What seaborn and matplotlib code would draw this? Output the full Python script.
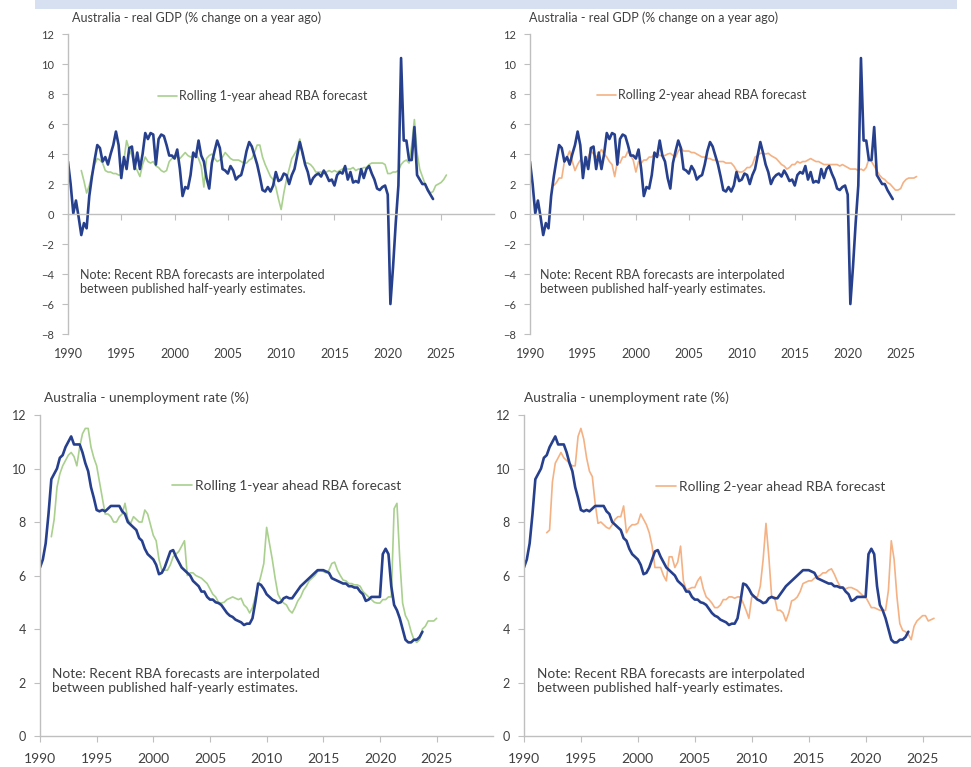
"""Australia GDP and unemployment vs rolling RBA forecasts."""
import matplotlib
import matplotlib.pyplot as plt
import numpy as np
import seaborn as sns
from matplotlib.patches import Rectangle

matplotlib.use("Agg")

# quarterly data, first value at the given start year
gdp_start = 1990.0
gdp_actual = [
    3.5, 2.0, 0.05, 0.9, -0.2, -1.4, -0.6, -0.95, 1.2, 2.5, 3.6, 4.6,
    4.4, 3.5, 3.8, 3.3, 4.0, 4.6, 5.5, 4.6, 2.4, 3.8, 3.0, 4.4,
    4.5, 3.0, 4.1, 3.0, 4.0, 5.4, 5.0, 5.4, 5.3, 3.3, 5.0, 5.3,
    5.2, 4.6, 3.9, 3.9, 3.7, 4.3, 3.0, 1.2, 1.8, 1.7, 2.6, 4.1,
    3.8, 4.9, 3.9, 3.5, 2.4, 1.7, 3.4, 4.2, 4.9, 4.4, 3.0, 2.9,
    2.7, 3.2, 2.9, 2.3, 2.5, 2.6, 3.3, 4.2, 4.8, 4.5, 3.9, 3.3,
    2.5, 1.6, 1.5, 1.8, 1.5, 1.9, 2.8, 2.2, 2.3, 2.7, 2.6, 2.0,
    2.6, 3.0, 3.9, 4.8, 4.1, 3.3, 2.8, 2.0, 2.4, 2.6, 2.7, 2.5,
    2.9, 2.6, 2.2, 2.3, 1.9, 2.6, 2.8, 2.7, 3.2, 2.3, 2.8, 2.1,
    2.2, 2.1, 3.0, 2.4, 3.0, 3.2, 2.7, 2.3, 1.7, 1.6, 1.8, 1.9,
    1.3, -6.0, -3.5, -0.6, 1.9, 10.4, 4.9, 4.9, 3.6, 3.6, 5.8, 2.6,
    2.3, 2.0, 2.0, 1.6, 1.3, 1.0,
]
gdp_fc1_start = 1991.25
gdp_fc1 = [
    2.9, 2.2, 1.4, 1.9, 2.7, 3.3, 3.7, 3.6, 3.4, 2.9, 2.8,
    2.8, 2.7, 2.7, 2.6, 2.6, 3.6, 4.9, 4.3, 3.9, 3.2, 2.9, 2.5,
    3.3, 3.8, 3.5, 3.4, 3.5, 3.2, 3.1, 2.9, 2.8, 2.9, 3.5, 3.7,
    3.9, 3.8, 3.7, 3.9, 4.1, 3.9, 3.8, 3.9, 4.0, 3.7, 3.2, 1.8,
    3.7, 3.9, 4.0, 3.7, 3.5, 3.6, 3.8, 4.1, 3.9, 3.7, 3.6, 3.6,
    3.6, 3.5, 3.4, 3.4, 3.6, 3.7, 4.1, 4.6, 4.6, 3.8, 3.3, 2.9,
    2.5, 2.3, 1.8, 1.0, 0.3, 1.4, 2.3, 3.0, 3.7, 4.0, 4.3, 5.0,
    3.9, 3.4, 3.4, 3.3, 3.1, 2.8, 2.8, 2.8, 2.7, 2.8, 2.9, 2.8,
    2.9, 2.8, 2.9, 3.0, 3.1, 3.0, 3.0, 3.1, 2.9, 3.0, 3.0, 3.1,
    3.1, 3.3, 3.4, 3.4, 3.4, 3.4, 3.4, 3.3, 2.7, 2.7, 2.8, 2.8,
    2.9, 3.3, 3.5, 3.6, 3.4, 4.6, 6.3, 4.1, 3.0, 2.5, 2.0, 1.7,
    1.4, 1.5, 1.9, 2.0, 2.1, 2.3, 2.6,
]
gdp_fc2_start = 1992.25
gdp_fc2 = [
    1.9, 2.1, 2.4, 2.4, 3.5, 3.8, 4.2, 3.5, 2.9, 3.3, 3.6,
    3.4, 3.2, 3.8, 4.2, 4.0, 3.8, 4.0, 4.3, 4.0, 3.8, 3.5, 3.3,
    2.5, 3.5, 3.4, 3.8, 3.8, 4.2, 3.9, 3.6, 2.8, 3.5, 3.4, 3.6,
    3.6, 3.8, 3.8, 4.0, 4.05, 3.9, 3.9, 3.9, 4.0, 4.05, 3.9, 3.8,
    4.2, 4.4, 4.2, 4.2, 4.2, 4.1, 4.1, 4.0, 3.9, 3.8, 3.8, 3.7,
    3.7, 3.6, 3.6, 3.5, 3.5, 3.5, 3.4, 3.4, 3.4, 3.2, 2.9, 2.8,
    2.8, 2.9, 3.1, 3.1, 3.3, 3.8, 3.9, 4.05, 4.05, 4.0, 4.05, 3.9,
    3.8, 3.7, 3.5, 3.3, 3.2, 3.0, 3.1, 3.3, 3.3, 3.5, 3.4, 3.5,
    3.5, 3.6, 3.7, 3.6, 3.5, 3.5, 3.4, 3.3, 3.3, 3.3, 3.3, 3.3,
    3.3, 3.2, 3.3, 3.2, 3.1, 3.0, 3.0, 3.0, 2.9, 3.0, 2.9, 3.1,
    3.7, 3.5, 3.2, 2.9, 2.6, 2.4, 2.3, 2.1, 2.0, 1.8, 1.6, 1.6,
    1.7, 2.1, 2.3, 2.4, 2.4, 2.4, 2.5,
]

ur_start = 1990.0
ur_actual = [
    6.3, 6.6, 7.2, 8.3, 9.6, 9.8, 10.0, 10.4, 10.5, 10.8, 11.0, 11.2,
    10.9, 10.9, 10.9, 10.6, 10.2, 9.9, 9.3, 8.9, 8.45, 8.4, 8.45, 8.4,
    8.5, 8.6, 8.6, 8.6, 8.6, 8.4, 8.3, 8.0, 7.9, 7.8, 7.7, 7.4,
    7.3, 7.0, 6.8, 6.7, 6.6, 6.4, 6.05, 6.1, 6.3, 6.6, 6.9, 6.95,
    6.7, 6.5, 6.3, 6.2, 6.1, 6.0, 5.8, 5.7, 5.6, 5.4, 5.4, 5.2,
    5.1, 5.1, 5.0, 4.97, 4.9, 4.75, 4.6, 4.5, 4.45, 4.35, 4.3, 4.25,
    4.15, 4.2, 4.2, 4.4, 5.0, 5.7, 5.65, 5.5, 5.3, 5.2, 5.1, 5.05,
    4.97, 5.0, 5.15, 5.2, 5.15, 5.15, 5.3, 5.45, 5.6, 5.7, 5.8, 5.9,
    6.0, 6.1, 6.2, 6.2, 6.2, 6.15, 6.1, 5.9, 5.85, 5.8, 5.75, 5.7,
    5.7, 5.6, 5.6, 5.55, 5.55, 5.4, 5.3, 5.05, 5.1, 5.2, 5.2, 5.2,
    5.2, 6.8, 7.0, 6.8, 5.6, 4.9, 4.7, 4.4, 4.0, 3.6, 3.5, 3.5,
    3.6, 3.6, 3.7, 3.9,
]
ur_fc1_start = 1991.0
ur_fc1 = [
    7.45, 8.1, 9.3, 9.8, 10.1, 10.3, 10.5, 10.6, 10.45, 10.1, 10.8, 11.3,
    11.5, 11.5, 10.8, 10.4, 10.1, 9.5, 8.9, 8.3, 8.3, 8.2, 8.0, 8.0,
    8.2, 8.3, 8.7, 8.1, 7.95, 8.2, 8.1, 8.0, 8.0, 8.45, 8.3, 7.9,
    7.5, 7.3, 6.6, 6.2, 6.2, 6.2, 6.4, 6.7, 6.8, 6.9, 7.1, 7.3,
    6.0, 6.1, 6.1, 6.0, 5.95, 5.9, 5.8, 5.7, 5.5, 5.3, 5.2, 5.0,
    4.97, 5.0, 5.1, 5.15, 5.2, 5.15, 5.1, 5.15, 4.9, 4.8, 4.6, 4.8,
    5.2, 5.6, 6.0, 6.45, 7.8, 7.2, 6.6, 5.9, 5.3, 5.1, 4.97, 4.9,
    4.7, 4.6, 4.8, 5.05, 5.2, 5.45, 5.6, 5.8, 5.9, 6.0, 6.15, 6.2,
    6.15, 6.1, 6.2, 6.45, 6.5, 6.2, 6.0, 5.83, 5.8, 5.7, 5.7, 5.65,
    5.65, 5.6, 5.4, 5.3, 5.2, 5.1, 5.0, 4.97, 4.97, 5.1, 5.1, 5.2,
    5.2, 8.5, 8.7, 6.6, 4.97, 4.5, 4.3, 3.9, 3.6, 3.5, 3.6, 4.0,
    4.1, 4.3, 4.3, 4.3, 4.4,
]
ur_fc2_start = 1992.0
ur_fc2 = [
    7.6, 7.7, 9.5, 10.2, 10.4, 10.6, 10.4, 10.3, 10.2, 10.1, 10.1, 11.2,
    11.5, 11.1, 10.4, 9.9, 9.7, 8.7, 7.95, 8.0, 7.9, 7.8, 7.75, 7.9,
    8.1, 8.2, 8.2, 8.6, 7.6, 7.8, 7.9, 7.9, 7.95, 8.3, 8.1, 7.9,
    7.6, 7.1, 6.3, 6.3, 6.3, 6.0, 5.8, 6.7, 6.7, 6.3, 6.5, 7.1,
    5.8, 5.45, 5.5, 5.55, 5.55, 5.8, 5.95, 5.5, 5.2, 5.1, 4.97, 4.8,
    4.8, 4.9, 5.1, 5.1, 5.2, 5.2, 5.15, 5.2, 5.2, 4.97, 4.7, 4.4,
    5.2, 5.2, 5.2, 5.6, 6.6, 7.95, 6.7, 5.2, 5.2, 4.7, 4.7, 4.6,
    4.3, 4.6, 5.05, 5.1, 5.2, 5.4, 5.7, 5.75, 5.8, 5.8, 5.9, 5.95,
    6.0, 6.1, 6.1, 6.2, 6.25, 6.05, 5.8, 5.6, 5.55, 5.5, 5.55, 5.55,
    5.5, 5.45, 5.35, 5.25, 5.2, 5.0, 4.8, 4.8, 4.75, 4.7, 4.7, 4.7,
    5.45, 7.3, 6.6, 5.2, 4.2, 3.95, 3.9, 3.8, 3.6, 4.1, 4.3, 4.4,
    4.5, 4.5, 4.3, 4.35, 4.4,
]

year_ticks = [1990, 1995, 2000, 2005, 2010, 2015, 2020, 2025]
gdp_yticks = [-8, -6, -4, -2, 0, 2, 4, 6, 8, 10, 12]
ur_yticks = [0, 2, 4, 6, 8, 10, 12]

ACTUAL = "#27408e"
GREEN = "#a9d08e"
ORANGE = "#f4b183"
AXIS = "#bfbfbf"
TEXT = "#404040"
NOTE = "Note: Recent RBA forecasts are interpolated\nbetween published half-yearly estimates."

sns.set_style("white")
plt.rcParams["font.family"] = ["Lato", "DejaVu Sans"]


def quarters(start, values):
    return start + np.arange(len(values)) / 4


def draw_panel(ax, actual, a_start, fc, f_start, color, label, title,
               yticks, top, tick_fs, text_fs, leg_xy, note_xy, title_x):
    sns.lineplot(x=quarters(f_start, fc), y=fc, ax=ax, color=color,
                 linewidth=1.2, label=label)
    sns.lineplot(x=quarters(a_start, actual), y=actual, ax=ax,
                 color=ACTUAL, linewidth=1.9)
    ax.set_xlim(1990, 2030)
    ax.set_ylim(yticks[0], yticks[-1])
    ax.set_yticks(yticks)
    ax.set_xticks(year_ticks)
    for side in ["top", "right"]:
        ax.spines[side].set_visible(False)
    for side in ["left", "bottom"]:
        ax.spines[side].set_color(AXIS)
        ax.spines[side].set_linewidth(1.0)
    ax.tick_params(axis="y", direction="out", length=4, color=AXIS,
                   labelsize=tick_fs, labelcolor=TEXT, pad=6, left=True)
    if top:
        ax.spines["bottom"].set_position(("data", 0))
        ax.tick_params(axis="x", direction="out", length=4, color=AXIS,
                       labelbottom=False, bottom=True)
        sec = ax.secondary_xaxis("bottom")
        sec.set_xticks(year_ticks)
        sec.spines["bottom"].set_visible(False)
        sec.tick_params(length=0, labelsize=tick_fs + 1, labelcolor=TEXT,
                        pad=10)
    else:
        ax.tick_params(axis="x", direction="out", length=4, color=AXIS,
                       labelsize=tick_fs + 1, labelcolor=TEXT, pad=8,
                       bottom=True)
    ax.set_xlabel("")
    ax.set_ylabel("")
    ax.text(title_x, 1.053, title, transform=ax.transAxes, fontsize=text_fs,
            color=TEXT, va="center", ha="left")
    ax.text(note_xy[0], note_xy[1], NOTE, transform=ax.transAxes,
            fontsize=text_fs, color=TEXT, va="center", ha="left",
            linespacing=1.2)
    ax.legend(loc="center left", bbox_to_anchor=leg_xy, frameon=False,
              fontsize=text_fs, handlelength=1.5, handletextpad=0.2,
              borderpad=0, borderaxespad=0, labelcolor=TEXT)


fig = plt.figure(figsize=(9.71, 7.67), dpi=100)
fig.add_artist(Rectangle((35 / 971, 1 - 9 / 767), 922 / 971, 9 / 767,
                         transform=fig.transFigure, color="#d6e0f1", lw=0))

ax1 = fig.add_axes([0.0700, 0.5645, 0.4391, 0.3911])
ax2 = fig.add_axes([0.5458, 0.5645, 0.4363, 0.3911])
ax3 = fig.add_axes([0.0412, 0.0404, 0.4668, 0.4185])
ax4 = fig.add_axes([0.5396, 0.0404, 0.4692, 0.4185])

draw_panel(ax1, gdp_actual, gdp_start, gdp_fc1, gdp_fc1_start, GREEN,
           "Rolling 1-year ahead RBA forecast",
           "Australia - real GDP (% change on a year ago)",
           gdp_yticks, True, 8, 9, (0.211, 0.793), (0.028, 0.173), 0.009)
draw_panel(ax2, gdp_actual, gdp_start, gdp_fc2, gdp_fc2_start, ORANGE,
           "Rolling 2-year ahead RBA forecast",
           "Australia - real GDP (% change on a year ago)",
           gdp_yticks, True, 8, 9, (0.158, 0.797), (0.024, 0.173), -0.002)
draw_panel(ax3, ur_actual, ur_start, ur_fc1, ur_fc1_start, GREEN,
           "Rolling 1-year ahead RBA forecast",
           "Australia - unemployment rate (%)",
           ur_yticks, False, 9, 9.8, (0.291, 0.779), (0.026, 0.171), 0.009)
draw_panel(ax4, ur_actual, ur_start, ur_fc2, ur_fc2_start, ORANGE,
           "Rolling 2-year ahead RBA forecast",
           "Australia - unemployment rate (%)",
           ur_yticks, False, 9, 9.8, (0.290, 0.776), (0.029, 0.170), 0.0)

fig.savefig("out.png", dpi=100)
plt.close(fig)
